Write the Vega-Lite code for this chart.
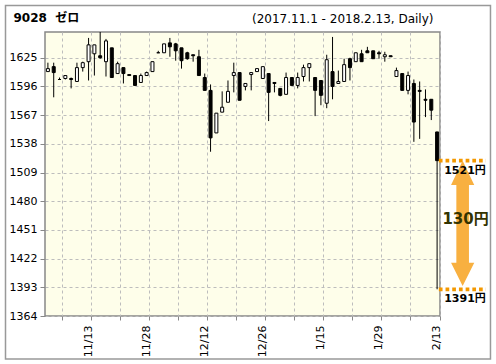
{
  "$schema": "https://vega.github.io/schema/vega-lite/v6.json",
  "width": 395,
  "height": 284,
  "autosize": {"type": "none"},
  "padding": {"left": 45, "top": 32, "right": 56, "bottom": 48},
  "background": "#ffffff",
  "config": {
    "font": "DejaVu Sans, Noto Sans CJK JP",
    "view": {"fill": "#FEFEEA", "stroke": "#888888", "strokeWidth": 1.5},
    "axis": {"labelFont": "DejaVu Sans, Noto Sans CJK JP", "titleFont": "DejaVu Sans, Noto Sans CJK JP"},
    "text": {"font": "DejaVu Sans, Noto Sans CJK JP"}
  },
  "datasets": {
    "ohlc": [
      {"d": "11/1", "o": 1611, "h": 1620, "l": 1611, "c": 1614},
      {"d": "11/2", "o": 1616, "h": 1620, "l": 1585, "c": 1610},
      {"d": "11/6", "o": 1603, "h": 1605, "l": 1603, "c": 1603},
      {"d": "11/7", "o": 1604, "h": 1607, "l": 1603, "c": 1607},
      {"d": "11/8", "o": 1604, "h": 1605, "l": 1594, "c": 1603},
      {"d": "11/9", "o": 1601, "h": 1620, "l": 1601, "c": 1615},
      {"d": "11/10", "o": 1615, "h": 1621, "l": 1611, "c": 1620},
      {"d": "11/13", "o": 1621, "h": 1645, "l": 1602, "c": 1638},
      {"d": "11/14", "o": 1629, "h": 1638, "l": 1607, "c": 1638},
      {"d": "11/15", "o": 1627, "h": 1651, "l": 1624, "c": 1625},
      {"d": "11/16", "o": 1621, "h": 1644, "l": 1606, "c": 1642},
      {"d": "11/17", "o": 1635, "h": 1635, "l": 1605, "c": 1605},
      {"d": "11/20", "o": 1609, "h": 1621, "l": 1609, "c": 1619},
      {"d": "11/21", "o": 1615, "h": 1615, "l": 1599, "c": 1609},
      {"d": "11/22", "o": 1608, "h": 1608, "l": 1607, "c": 1607},
      {"d": "11/24", "o": 1607, "h": 1607, "l": 1597, "c": 1597},
      {"d": "11/27", "o": 1600, "h": 1609, "l": 1600, "c": 1607},
      {"d": "11/28", "o": 1607, "h": 1611, "l": 1607, "c": 1610},
      {"d": "11/29", "o": 1611, "h": 1621, "l": 1611, "c": 1621},
      {"d": "11/30", "o": 1630, "h": 1632, "l": 1630, "c": 1630},
      {"d": "12/1", "o": 1630, "h": 1639, "l": 1630, "c": 1639},
      {"d": "12/4", "o": 1640, "h": 1645, "l": 1626, "c": 1636},
      {"d": "12/5", "o": 1639, "h": 1640, "l": 1622, "c": 1632},
      {"d": "12/6", "o": 1635, "h": 1635, "l": 1614, "c": 1622},
      {"d": "12/7", "o": 1630, "h": 1631, "l": 1623, "c": 1624},
      {"d": "12/8", "o": 1628, "h": 1628, "l": 1621, "c": 1627},
      {"d": "12/11", "o": 1626, "h": 1633, "l": 1607, "c": 1607},
      {"d": "12/12", "o": 1605, "h": 1609, "l": 1592, "c": 1592},
      {"d": "12/13", "o": 1592, "h": 1598, "l": 1530, "c": 1544},
      {"d": "12/14", "o": 1549, "h": 1569, "l": 1549, "c": 1569},
      {"d": "12/15", "o": 1570, "h": 1591, "l": 1570, "c": 1575},
      {"d": "12/18", "o": 1580, "h": 1602, "l": 1580, "c": 1591},
      {"d": "12/19", "o": 1607, "h": 1620, "l": 1590, "c": 1610},
      {"d": "12/20", "o": 1610, "h": 1610, "l": 1582, "c": 1582},
      {"d": "12/21", "o": 1596, "h": 1599, "l": 1592, "c": 1599},
      {"d": "12/22", "o": 1608, "h": 1610, "l": 1592, "c": 1610},
      {"d": "12/25", "o": 1611, "h": 1614, "l": 1611, "c": 1614},
      {"d": "12/26", "o": 1604, "h": 1616, "l": 1604, "c": 1616},
      {"d": "12/27", "o": 1609, "h": 1609, "l": 1561, "c": 1590},
      {"d": "12/28", "o": 1600, "h": 1600, "l": 1590, "c": 1599},
      {"d": "12/29", "o": 1594, "h": 1594, "l": 1586, "c": 1587},
      {"d": "1/4", "o": 1588, "h": 1610, "l": 1588, "c": 1605},
      {"d": "1/5", "o": 1605, "h": 1605, "l": 1597, "c": 1597},
      {"d": "1/9", "o": 1597, "h": 1610, "l": 1594, "c": 1605},
      {"d": "1/10", "o": 1606, "h": 1618, "l": 1601, "c": 1615},
      {"d": "1/11", "o": 1615, "h": 1619, "l": 1601, "c": 1619},
      {"d": "1/12", "o": 1605, "h": 1605, "l": 1566, "c": 1592},
      {"d": "1/15", "o": 1602, "h": 1602, "l": 1577, "c": 1587},
      {"d": "1/16", "o": 1579, "h": 1628, "l": 1574, "c": 1623},
      {"d": "1/17", "o": 1611, "h": 1646, "l": 1583, "c": 1596},
      {"d": "1/18", "o": 1599, "h": 1612, "l": 1599, "c": 1601},
      {"d": "1/19", "o": 1601, "h": 1624, "l": 1601, "c": 1618},
      {"d": "1/22", "o": 1624, "h": 1625, "l": 1602, "c": 1615},
      {"d": "1/23", "o": 1621, "h": 1630, "l": 1621, "c": 1630},
      {"d": "1/24", "o": 1629, "h": 1633, "l": 1621, "c": 1621},
      {"d": "1/25", "o": 1632, "h": 1636, "l": 1630, "c": 1630},
      {"d": "1/26", "o": 1632, "h": 1632, "l": 1624, "c": 1624},
      {"d": "1/29", "o": 1630, "h": 1632, "l": 1624, "c": 1629},
      {"d": "1/30", "o": 1626, "h": 1631, "l": 1621, "c": 1628},
      {"d": "1/31", "o": 1627, "h": 1627, "l": 1626, "c": 1626},
      {"d": "2/1", "o": 1606, "h": 1615, "l": 1606, "c": 1612},
      {"d": "2/2", "o": 1609, "h": 1609, "l": 1592, "c": 1592},
      {"d": "2/5", "o": 1592, "h": 1611, "l": 1588, "c": 1607},
      {"d": "2/6", "o": 1599, "h": 1603, "l": 1540, "c": 1560},
      {"d": "2/7", "o": 1592, "h": 1601, "l": 1543, "c": 1591},
      {"d": "2/8", "o": 1583, "h": 1593, "l": 1565, "c": 1582},
      {"d": "2/9", "o": 1583, "h": 1583, "l": 1562, "c": 1572},
      {"d": "2/13", "o": 1550, "h": 1550, "l": 1391, "c": 1521}
    ],
    "levels": [
      {"price": 1521, "label": "1521円", "pos": "top"},
      {"price": 1391, "label": "1391円", "pos": "bottom"}
    ],
    "move": [
      {"from": 1521, "to": 1391, "label": "130円"}
    ]
  },
  "resolve": {"scale": {"x": "independent"}},
  "layer": [
    {
      "data": {"name": "ohlc"},
      "encoding": {
        "x": {
          "field": "d",
          "type": "ordinal",
          "sort": null,
          "scale": {"paddingInner": 0, "paddingOuter": 0},
          "axis": {
            "values": ["11/6", "11/13", "11/20", "11/28", "12/5", "12/12", "12/19", "12/26", "1/5", "1/15", "1/22", "1/29", "2/5", "2/13"],
            "bandPosition": 1,
            "labelExpr": "indexof(['11/13','11/28','12/12','12/26','1/15','1/29','2/13'], datum.value) >= 0 ? datum.value : ''",
            "labelAngle": 270,
            "labelAlign": "right",
            "labelBaseline": "middle",
            "labelPadding": 5,
            "labelFontSize": 11,
            "labelColor": "#000000",
            "labelOverlap": false,
            "tickSize": 4,
            "tickColor": "#888888",
            "domain": false,
            "grid": true,
            "gridDash": [3, 3],
            "gridColor": "#bdbdbd",
            "title": null
          }
        },
        "y": {
          "type": "quantitative",
          "scale": {"domain": [1364, 1651], "nice": false, "zero": false},
          "axis": {
            "values": [1364, 1393, 1422, 1451, 1480, 1509, 1538, 1567, 1596, 1625],
            "tickCount": 20,
            "format": "d",
            "labelOverlap": false,
            "ticks": true,
            "tickSize": 5,
            "tickColor": "#888888",
            "domain": false,
            "labelPadding": 3,
            "labelFontSize": 11,
            "labelColor": "#000000",
            "grid": true,
            "gridDash": [3, 3],
            "gridColor": "#bdbdbd",
            "title": "9028\u00a0\u00a0ゼロ",
            "titleAngle": 0,
            "titleX": -32,
            "titleY": -11,
            "titleAlign": "left",
            "titleBaseline": "alphabetic",
            "titleFontSize": 12,
            "titleFontWeight": "bold",
            "titleColor": "#000000"
          }
        }
      },
      "layer": [
        {
          "mark": {"type": "rule", "color": "#000000", "strokeWidth": 1},
          "encoding": {
            "y": {"field": "l"},
            "y2": {"field": "h"}
          }
        },
        {
          "mark": {"type": "bar", "width": 3, "stroke": "#000000", "strokeWidth": 1},
          "encoding": {
            "y": {"field": "o"},
            "y2": {"field": "c"},
            "fill": {"condition": {"test": "datum.o > datum.c", "value": "#000000"}, "value": "#ffffff"}
          }
        }
      ]
    },
    {
      "layer": [
        {
          "data": {"values": [{}]},
          "mark": {"type": "rect", "fill": "transparent", "stroke": "#999999", "strokeWidth": 1.5, "clip": false},
          "encoding": {
            "x": {
              "datum": -6.8,
              "type": "quantitative",
              "scale": {"domain": [0, 68], "nice": false, "zero": false},
              "axis": {
                "orient": "top",
                "labels": false,
                "ticks": false,
                "domain": false,
                "grid": false,
                "title": "(2017.11.1 - 2018.2.13, Daily)",
                "titleX": 388,
                "titleY": -9.5,
                "titleAngle": 0,
                "titleAlign": "right",
                "titleBaseline": "alphabetic",
                "titleFontSize": 12,
                "titleFontWeight": "normal",
                "titleColor": "#000000"
              }
            },
            "x2": {"datum": 76.69},
            "y": {"datum": 1677.8, "type": "quantitative"},
            "y2": {"datum": 1320.55}
          }
        },
        {
          "data": {"name": "levels"},
          "mark": {"type": "rule", "color": "#F39800", "strokeWidth": 3.7, "strokeDash": [3.7, 3]},
          "encoding": {
            "x": {"datum": 67.8, "type": "quantitative"},
            "x2": {"datum": 75.9},
            "y": {"field": "price", "type": "quantitative"}
          }
        },
        {
          "data": {"name": "move"},
          "mark": {
            "type": "point",
            "filled": true,
            "opacity": 1,
            "size": 400,
            "color": "#F8B040",
            "shape": "M0,0L1.16,2.44L0.63,2.44L0.63,10.21L1.16,10.21L0,12.54L-1.16,10.21L-0.63,10.21L-0.63,2.44L-1.16,2.44Z"
          },
          "encoding": {
            "x": {"datum": 71.9, "type": "quantitative"},
            "y": {"field": "from", "type": "quantitative"}
          }
        },
        {
          "data": {"name": "levels"},
          "mark": {"type": "text", "fontSize": 11, "fontWeight": "bold", "color": "#000000", "align": "center", "baseline": "middle"},
          "encoding": {
            "x": {"datum": 72.3, "type": "quantitative"},
            "y": {"field": "price", "type": "quantitative"},
            "yOffset": {"condition": {"test": "datum.pos == 'top'", "value": -11}, "value": 10},
            "text": {"field": "label"}
          }
        },
        {
          "data": {"name": "move"},
          "mark": {"type": "text", "fontSize": 15, "fontWeight": "bold", "color": "#333300", "align": "center", "baseline": "middle", "yOffset": 58.5},
          "encoding": {
            "x": {"datum": 72.4, "type": "quantitative"},
            "y": {"field": "from", "type": "quantitative"},
            "text": {"field": "label"}
          }
        }
      ]
    }
  ]
}
